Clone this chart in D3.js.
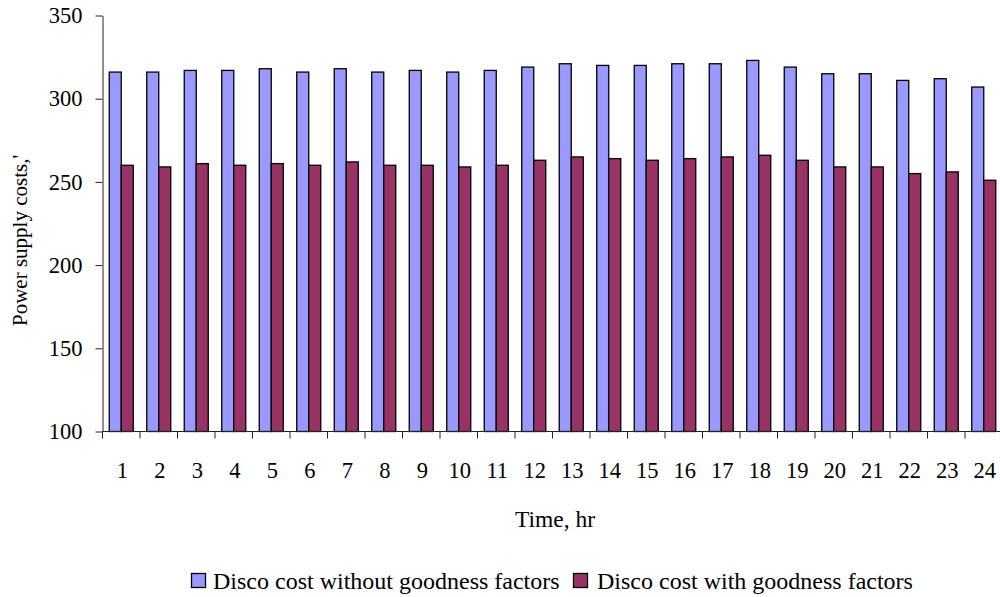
<!DOCTYPE html>
<html>
<head>
<meta charset="utf-8">
<script src="https://cdn.jsdelivr.net/npm/d3@7"></script>
<style>
  html, body { margin: 0; padding: 0; background: #fff; }
  svg { display: block; }
  text { font-family: "Liberation Serif", "Times New Roman", serif; fill: #000; }
</style>
</head>
<body>
<script>
const hours = ["1","2","3","4","5","6","7","8","9","10","11","12","13","14","15","16","17","18","19","20","21","22","23","24"];
const withoutGoodness = [316,316,317,317,318,316,318,316,317,316,317,319,321,320,320,321,321,323,319,315,315,311,312,307];
const withGoodness = [260,259,261,260,261,260,262,260,260,259,260,263,265,264,263,264,265,266,263,259,259,255,256,251];
const seriesNames = ["Disco cost without goodness factors", "Disco cost with goodness factors"];
const seriesColors = ["#9999FF", "#993366"];
const yTicks = [100,150,200,250,300,350];

const W = 1000, H = 597;
const mLeft = 102.5, mRight = 1002.5, mTop = 15.5, mBottom = 431.5;

const svg = d3.select("body").append("svg").attr("width", W).attr("height", H);

const x = d3.scaleBand().domain(hours).range([mLeft, mRight]).paddingInner(0).paddingOuter(0);
const y = d3.scaleLinear().domain([100, 350]).range([mBottom, mTop]);
const barW = x.bandwidth() * 0.32;

const series = [withoutGoodness, withGoodness];
series.forEach((vals, si) => {
  svg.append("g").selectAll("rect").data(vals).join("rect")
    .attr("x", (d, i) => x(hours[i]) + x.bandwidth() / 2 - barW + si * barW)
    .attr("y", d => y(d))
    .attr("width", barW)
    .attr("height", d => y(100) - y(d))
    .attr("fill", seriesColors[si])
    .attr("stroke", "#000")
    .attr("stroke-width", 1.3);
});

// Y axis
const yAxis = svg.append("g").attr("transform", `translate(${mLeft},0)`)
  .call(d3.axisLeft(y).tickValues(yTicks).tickSize(7).tickPadding(13).tickSizeOuter(0));
yAxis.selectAll("text").style("font-size", "22.5px").attr("font-family", "Liberation Serif");
yAxis.selectAll("line, path").attr("stroke", "#222");

// X axis with ticks at band boundaries
const xAxisG = svg.append("g");
xAxisG.append("line").attr("x1", mLeft).attr("x2", mRight).attr("y1", mBottom).attr("y2", mBottom).attr("stroke", "#222");
const bounds = hours.map(h => x(h)).concat([x(hours[hours.length-1]) + x.bandwidth()]);
xAxisG.selectAll("line.t").data(bounds).join("line").attr("class","t")
  .attr("x1", d => d).attr("x2", d => d).attr("y1", mBottom).attr("y2", mBottom + 7).attr("stroke", "#222");
xAxisG.selectAll("text").data(hours).join("text")
  .attr("x", d => x(d) + x.bandwidth() / 2 + 1)
  .attr("y", 478)
  .attr("text-anchor", "middle")
  .style("font-size", "22.5px")
  .text(d => d);

// Axis titles
svg.append("text").attr("x", 555).attr("y", 527).attr("text-anchor", "middle")
  .style("font-size", "23.5px").text("Time, hr");
svg.append("text").attr("transform", "translate(27,326) rotate(-90)")
  .attr("text-anchor", "start").style("font-size", "21px").text("Power supply costs,'");

// Legend
const legendItems = [{x: 191, tx: 213}, {x: 573, tx: 597}];
legendItems.forEach((it, i) => {
  svg.append("rect").attr("x", it.x + 0.5).attr("y", 573.5).attr("width", 14).attr("height", 14)
    .attr("fill", seriesColors[i]).attr("stroke", "#000").attr("stroke-width", 1.3);
  svg.append("text").attr("x", it.tx).attr("y", 589).style("font-size", "24px").text(seriesNames[i]);
});
</script>
</body>
</html>
